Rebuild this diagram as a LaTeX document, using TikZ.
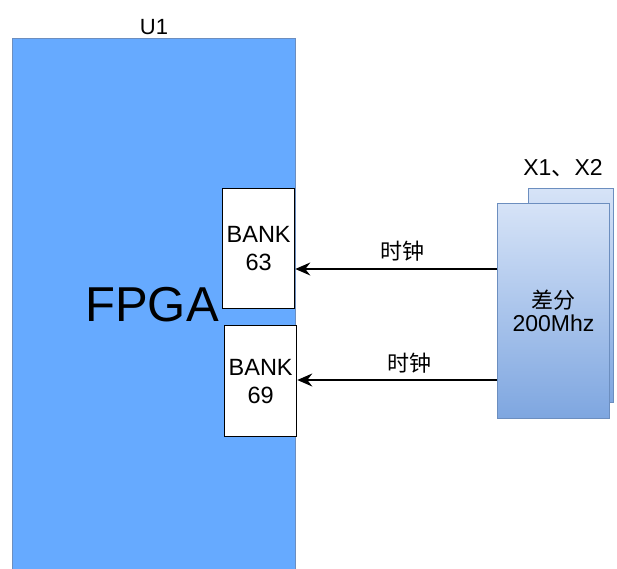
\documentclass[tikz,border=0pt]{standalone}
\usepackage{fontspec}
\setmainfont{Liberation Sans}
\newfontfamily\cjk{Noto Sans CJK SC}
\usepackage{xcolor}
\usetikzlibrary{arrows.meta,positioning}
\definecolor{bdChip}{HTML}{66AAFF}
\definecolor{bdChipLine}{HTML}{6C8EBF}
\definecolor{bdOscTop}{HTML}{D6E3F7}
\definecolor{bdOscBot}{HTML}{7EA6E0}
\definecolor{bdInk}{HTML}{000000}
\tikzset{
  bd diagram/.style={text=bdInk, line join=miter},
  bd chip/.style={draw=bdChipLine, fill=bdChip, line width=1pt,
    minimum width=283pt, minimum height=560pt, anchor=north west, inner sep=0pt},
  bd bank/.style={draw=bdInk, fill=white, line width=1.3pt, align=center,
    minimum width=72pt, minimum height=120pt, anchor=north west, inner sep=0pt,
    font=\fontsize{23.5}{28}\selectfont},
  bd osc/.style={draw=bdChipLine, top color=bdOscTop, bottom color=bdOscBot,
    line width=1pt, minimum width=112pt, minimum height=215pt,
    anchor=north west, inner sep=0pt, align=center},
  bd arrow/.style={-{Stealth[length=15pt,width=13pt,inset=5pt]}, draw=bdInk, line width=1.3pt},
  bd label/.style={font=\fontsize{22}{24}\selectfont\cjk},
  bd title/.style={font=\fontsize{22}{24}\selectfont}
}
\begin{document}
\begin{tikzpicture}[bd diagram,x=1pt,y=-1pt]
\useasboundingbox (0,0) rectangle (617,568);
% FPGA chip
\node[bd chip] (u1) at (12,38) {};
\node[bd title, above=0pt of u1.north] (u1name) {U1};
\node[font=\fontsize{49}{50}\selectfont] (fpga) at (152,305) {FPGA};
\node[bd bank] (bank63) at (222,188) {BANK\\63};
\node[bd bank, minimum height=111pt] (bank69) at (224,325) {BANK\\69};
% oscillators
\node[bd osc, minimum width=85pt, minimum height=214pt] (x2) at (528,188) {};
\node[bd osc] (x1) at (497,203) {\fontsize{22}{28}\selectfont\cjk 差分\\[4pt]\fontsize{23}{28}\selectfont 200Mhz};
\node[font=\fontsize{23}{24}\selectfont, anchor=south] (xname) at (563,180) {X1{\cjk 、}X2};
% clocks
\coordinate (clk63) at (497,269);
\coordinate (clk69) at (497,380);
\draw[bd arrow] (clk63) -- (clk63 -| bank63.east) node[bd label, midway, above=4pt, xshift=6pt] (lab63) {时钟};
\draw[bd arrow] (clk69) -- (clk69 -| bank69.east) node[bd label, midway, above=3pt, xshift=12pt] (lab69) {时钟};
\end{tikzpicture}
\end{document}
